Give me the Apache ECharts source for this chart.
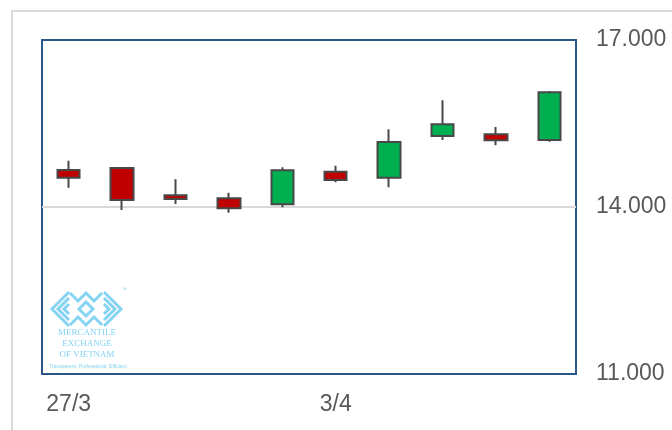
<!DOCTYPE html>
<html>
<head>
<meta charset="utf-8">
<script src="https://cdn.jsdelivr.net/npm/echarts@6/dist/echarts.min.js"></script>
<style>
html,body{margin:0;padding:0;background:#fff;}
#chart{width:672px;height:430px;}
</style>
</head>
<body>
<div id="chart"></div>
<script>
// Categories (trading days)
var categories = ['27/3','28/3','29/3','30/3','31/3','3/4','4/4','5/4','6/4','7/4'];
// OHLC values
var openValues  = [14665, 14701, 14211, 14157, 14049, 14635, 14527, 15276, 15306, 15204];
var closeValues = [14527, 14126, 14144, 13977, 14660, 14486, 15168, 15486, 15199, 16061];
var lowValues   = [14347, 13947, 14055, 13898, 13995, 14444, 14355, 15204, 15109, 15174];
var highValues  = [14832, 14701, 14498, 14258, 14714, 14742, 15396, 15917, 15437, 16084];
// Y axis ticks
var yTicks = [11000, 14000, 17000];

var candleData = categories.map(function (c, i) {
  return [openValues[i], closeValues[i], lowValues[i], highValues[i]];
});

var logoColor = '#85d3f3';
function chevron(tipX, tipY, h, dir) {
  return {
    type: 'polyline',
    shape: { points: [[tipX + dir * h, tipY - h], [tipX, tipY], [tipX + dir * h, tipY + h]] },
    style: { stroke: logoColor, lineWidth: 3, fill: null }
  };
}

var chart = echarts.init(document.getElementById('chart'), null, { renderer: 'canvas' });
chart.setOption({
  animation: false,
  backgroundColor: '#fff',
  grid: {
    left: 42, right: 96, top: 40, bottom: 56,
    show: true, borderColor: '#2a5788', borderWidth: 2, backgroundColor: 'transparent'
  },
  xAxis: {
    type: 'category',
    data: categories,
    boundaryGap: true,
    axisLine: { show: false },
    axisTick: { show: false },
    axisLabel: {
      interval: 4,
      color: '#595959',
      fontFamily: 'Liberation Sans, Arial, sans-serif',
      fontSize: 23,
      margin: 19
    },
    splitLine: { show: false }
  },
  yAxis: {
    type: 'value',
    position: 'right',
    min: yTicks[0],
    max: yTicks[yTicks.length - 1],
    interval: 3000,
    axisLine: { show: false },
    axisTick: { show: false },
    axisLabel: {
      color: '#595959',
      fontFamily: 'Liberation Sans, Arial, sans-serif',
      fontSize: 23,
      margin: 20,
      formatter: function (v) {
        return String(v).replace(/\B(?=(\d{3})+(?!\d))/g, '.');
      }
    },
    splitLine: { show: true, lineStyle: { color: ['rgba(0,0,0,0)', '#d9d9d9', 'rgba(0,0,0,0)'], width: 2 } }
  },
  series: [{
    type: 'candlestick',
    data: candleData,
    barWidth: 23,
    itemStyle: {
      color: '#00b050',
      color0: '#c00000',
      borderColor: '#484848',
      borderColor0: '#484848',
      borderWidth: 2
    }
  }],
  graphic: [
    {
      type: 'rect',
      shape: { x: 12, y: 11, width: 700, height: 440 },
      style: { stroke: '#d9d9d9', lineWidth: 2, fill: null },
      silent: true, z: -1
    },
    {
      type: 'group',
      silent: true,
      children: [
        chevron(52, 309, 17, 1),
        chevron(58, 309, 11, 1),
        chevron(64, 309, 5, 1),
        chevron(121, 309, 17, -1),
        chevron(115, 309, 11, -1),
        chevron(109, 309, 5, -1),
        {
          type: 'polyline',
          shape: { points: [[70, 293], [78, 301], [86, 293], [94, 301], [102, 293]] },
          style: { stroke: logoColor, lineWidth: 3, fill: null }
        },
        {
          type: 'polyline',
          shape: { points: [[70, 325], [78, 317], [86, 325], [94, 317], [102, 325]] },
          style: { stroke: logoColor, lineWidth: 3, fill: null }
        },
        {
          type: 'polygon',
          shape: { points: [[86, 302], [93, 309], [86, 316], [79, 309]] },
          style: { stroke: logoColor, lineWidth: 3, fill: null }
        },
        {
          type: 'text',
          style: { x: 122, y: 287, text: '™', fill: logoColor, font: '5px Liberation Sans' }
        },
        {
          type: 'text',
          style: { x: 87, y: 333, text: 'MERCANTILE', fill: logoColor, font: '9px Liberation Serif', align: 'center', verticalAlign: 'middle' }
        },
        {
          type: 'text',
          style: { x: 87, y: 344, text: 'EXCHANGE', fill: logoColor, font: '9px Liberation Serif', align: 'center', verticalAlign: 'middle' }
        },
        {
          type: 'text',
          style: { x: 87, y: 355, text: 'OF VIETNAM', fill: logoColor, font: '9px Liberation Serif', align: 'center', verticalAlign: 'middle' }
        },
        {
          type: 'text',
          style: { x: 88, y: 367, text: 'Transparent. Professional. Efficient', fill: logoColor, font: '5px Liberation Sans', align: 'center', verticalAlign: 'middle' }
        }
      ]
    }
  ]
});
</script>
</body>
</html>
